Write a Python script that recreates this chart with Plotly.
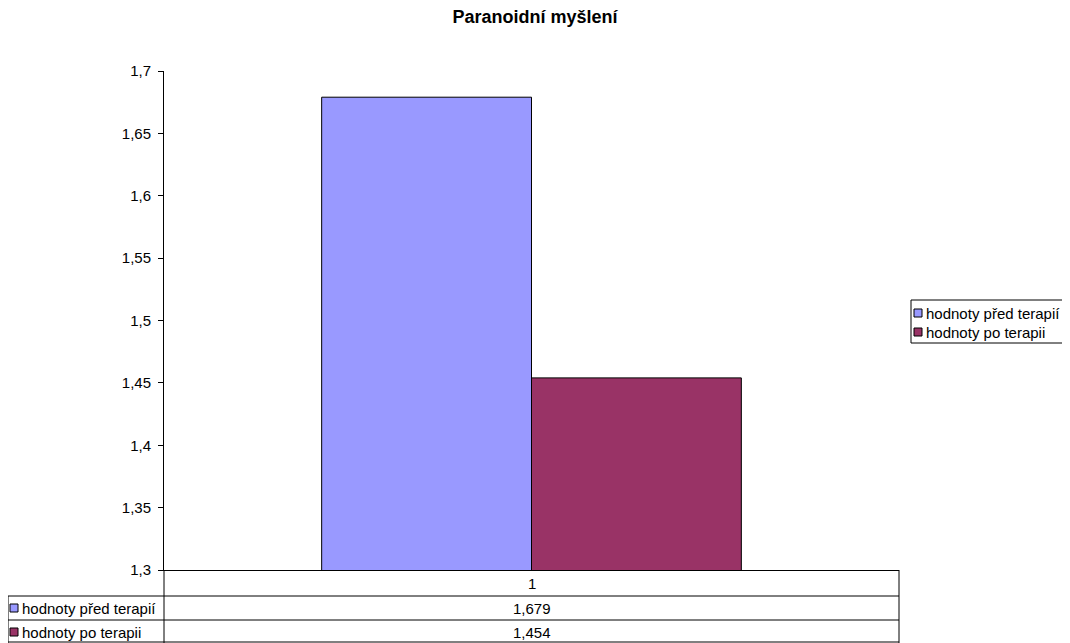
import plotly.graph_objects as go

# ---- data ----
title = "Paranoidní myšlení"
categories = ["1"]
series_names = ["hodnoty před terapií", "hodnoty po terapii"]
series_values = [[1.679], [1.454]]
series_colors = ["#9999FF", "#993366"]
y_ticks = [1.3, 1.35, 1.4, 1.45, 1.5, 1.55, 1.6, 1.65, 1.7]

# ---- layout geometry (window pixels; page body has an 8px margin) ----
OFF = 8
WIN_W, WIN_H = 1070, 643
FW, FH = WIN_W - OFF, WIN_H - OFF
L, R, T, B = 164, 899, 71, 570
W, H = R - L, B - T


def px(x):
    return (x - L) / W


def py(y):
    return (B - y) / H


fig = go.Figure()
for name, vals, col in zip(series_names, series_values, series_colors):
    fig.add_trace(go.Bar(
        x=categories, y=vals, name=name, showlegend=False,
        marker=dict(color=col, line=dict(color="#000000", width=1)),
    ))

font = "Liberation Sans, Arial, sans-serif"
tfont = dict(family=font, size=15, color="#000")

shapes = []
line = dict(color="#000000", width=1)
# data table lines
for yy in (596, 620, 642):
    shapes.append(dict(type="line", xref="paper", yref="paper",
                       x0=px(8), x1=px(R), y0=py(yy), y1=py(yy), line=line))
shapes.append(dict(type="line", xref="paper", yref="paper",
                   x0=px(8), x1=px(8), y0=py(596), y1=py(643), line=line))
shapes.append(dict(type="line", xref="paper", yref="paper",
                   x0=px(L), x1=px(L), y0=py(B), y1=py(643), line=line))
shapes.append(dict(type="line", xref="paper", yref="paper",
                   x0=px(R), x1=px(R), y0=py(B), y1=py(643), line=line))

annotations = []
cx = (L + R) / 2
annotations.append(dict(xref="paper", yref="paper", x=px(cx), y=py(583),
                        text=categories[0], showarrow=False, font=tfont,
                        xanchor="center", yanchor="middle"))
row_y = [608, 632]
leg_y = [313, 332]
for name, vals, col, ry, ly in zip(series_names, series_values, series_colors, row_y, leg_y):
    # table row
    annotations.append(dict(xref="paper", yref="paper", x=px(cx), y=py(ry),
                            text=f"{vals[0]:.3f}".replace(".", ","), showarrow=False,
                            font=tfont, xanchor="center", yanchor="middle"))
    annotations.append(dict(xref="paper", yref="paper", x=px(20), y=py(ry),
                            text=name, showarrow=False, font=tfont,
                            xanchor="left", yanchor="middle"))
    shapes.append(dict(type="rect", xref="paper", yref="paper",
                       x0=px(10), x1=px(18), y0=py(ry - 4), y1=py(ry + 4),
                       fillcolor=col, line=dict(color="#000", width=1)))
    # legend entry
    annotations.append(dict(xref="paper", yref="paper", x=px(924), y=py(ly),
                            text=name, showarrow=False, font=tfont,
                            xanchor="left", yanchor="middle"))
    shapes.append(dict(type="rect", xref="paper", yref="paper",
                       x0=px(914), x1=px(922), y0=py(ly - 4), y1=py(ly + 4),
                       fillcolor=col, line=dict(color="#000", width=1)))
# legend box
shapes.append(dict(type="rect", xref="paper", yref="paper",
                   x0=px(911), x1=px(1068), y0=py(300), y1=py(343),
                   fillcolor="rgba(0,0,0,0)", line=dict(color="#000", width=1)))

fig.update_layout(
    width=FW, height=FH,
    margin=dict(l=L - OFF, r=WIN_W - R, t=T - OFF, b=WIN_H - B, pad=0),
    paper_bgcolor="white", plot_bgcolor="white",
    separators=", ",
    title=dict(text=f"<b>{title}</b>", x=(535 - OFF) / FW, xref="container",
               xanchor="center", y=1 - (17 - OFF) / FH, yanchor="middle",
               font=dict(family=font, size=18, color="#000")),
    barmode="group", bargap=0.429, bargroupgap=0,
    showlegend=False,
    shapes=shapes, annotations=annotations,
    font=tfont,
)
fig.update_yaxes(range=[1.3, 1.7], tickvals=y_ticks, showgrid=False, zeroline=False,
                 showline=True, linecolor="#000", linewidth=1,
                 ticks="outside", ticklen=5, tickcolor="#000", tickfont=tfont,
                 ticklabelstandoff=4)
fig.update_xaxes(showticklabels=False, showgrid=False, zeroline=False,
                 showline=True, linecolor="#000", linewidth=1, ticks="")

fig.write_html("out.html")
